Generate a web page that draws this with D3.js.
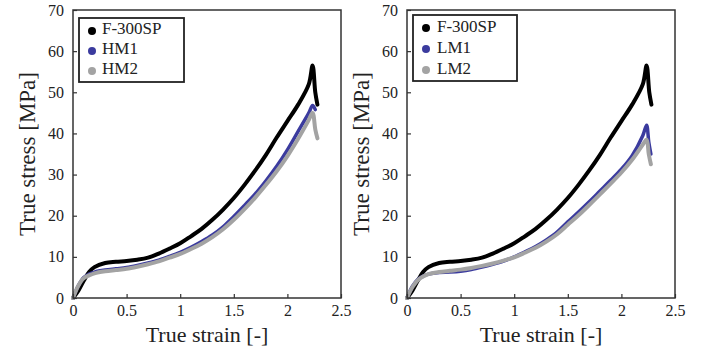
<!DOCTYPE html>
<html><head><meta charset="utf-8">
<script src="https://cdn.jsdelivr.net/npm/d3@7"></script>
<style>body{margin:0;background:#fff}svg{display:block}</style>
</head><body>
<svg id="c" width="702" height="353"></svg>
<script>
const xTicks = [0, 0.5, 1, 1.5, 2, 2.5];
const xTickLabels = ["0", "0.5", "1", "1.5", "2", "2.5"];
const yTicks = [0, 10, 20, 30, 40, 50, 60, 70];
const yTickLabels = ["0", "10", "20", "30", "40", "50", "60", "70"];

// F-300SP (same sample in both panels)
const strainF = [0, 0.05, 0.1, 0.15, 0.2, 0.3, 0.4, 0.5, 0.6, 0.7, 0.8, 0.9, 1.0, 1.1, 1.2, 1.3, 1.4, 1.5, 1.6, 1.7, 1.8, 1.9, 2.0, 2.1, 2.2, 2.235, 2.26, 2.28];
const stressF = [0, 1.8, 4.2, 6.3, 7.5, 8.5, 8.8, 9.0, 9.3, 9.8, 10.8, 12.0, 13.3, 15.0, 16.8, 19.0, 21.5, 24.3, 27.5, 31.0, 34.8, 39.0, 43.0, 47.0, 52.0, 56.5, 50.0, 47.0];

// Left panel: HM1, HM2
const strainHM1 = [0, 0.05, 0.1, 0.15, 0.2, 0.3, 0.4, 0.5, 0.6, 0.7, 0.8, 0.9, 1.0, 1.1, 1.2, 1.3, 1.4, 1.5, 1.6, 1.7, 1.8, 1.9, 2.0, 2.1, 2.2, 2.235, 2.26];
const stressHM1 = [0, 3.0, 5.0, 5.8, 6.3, 6.8, 7.1, 7.4, 7.9, 8.5, 9.2, 10.1, 11.1, 12.3, 13.7, 15.3, 17.3, 19.8, 22.5, 25.3, 28.5, 32.0, 36.0, 40.5, 45.0, 46.8, 45.8];
const strainHM2 = [0, 0.05, 0.1, 0.15, 0.2, 0.3, 0.4, 0.5, 0.6, 0.7, 0.8, 0.9, 1.0, 1.1, 1.2, 1.3, 1.4, 1.5, 1.6, 1.7, 1.8, 1.9, 2.0, 2.1, 2.2, 2.235, 2.26, 2.28];
const stressHM2 = [0, 3.0, 4.8, 5.5, 6.0, 6.5, 6.8, 7.1, 7.6, 8.2, 8.9, 9.8, 10.7, 11.9, 13.2, 14.8, 16.7, 19.0, 21.6, 24.4, 27.5, 30.8, 34.5, 38.7, 43.3, 45.0, 41.0, 38.8];

// Right panel: LM1, LM2
const strainLM1 = [0, 0.05, 0.1, 0.15, 0.2, 0.3, 0.4, 0.5, 0.6, 0.7, 0.8, 0.9, 1.0, 1.1, 1.2, 1.3, 1.4, 1.5, 1.6, 1.7, 1.8, 1.9, 2.0, 2.1, 2.2, 2.235, 2.255, 2.275];
const stressLM1 = [0, 2.8, 4.5, 5.3, 5.8, 6.2, 6.3, 6.5, 6.9, 7.5, 8.2, 9.0, 10.0, 11.2, 12.5, 14.1, 16.0, 18.5, 20.9, 23.4, 26.0, 28.6, 31.3, 34.6, 39.5, 42.0, 38.0, 35.0];
const strainLM2 = [0, 0.05, 0.1, 0.15, 0.2, 0.3, 0.4, 0.5, 0.6, 0.7, 0.8, 0.9, 1.0, 1.1, 1.2, 1.3, 1.4, 1.5, 1.6, 1.7, 1.8, 1.9, 2.0, 2.1, 2.2, 2.235, 2.255, 2.275];
const stressLM2 = [0, 2.6, 4.3, 5.2, 5.8, 6.3, 6.6, 6.9, 7.3, 7.8, 8.4, 9.1, 9.9, 11.0, 12.2, 13.7, 15.5, 17.8, 20.1, 22.6, 25.2, 27.8, 30.5, 33.6, 37.3, 38.5, 35.0, 32.5];

const colF = "#000000", col1 = "#3b3b9e", col2 = "#a3a3a3";
const serif = "'Liberation Serif','DejaVu Serif',serif";

const panels = [
  {x0: 73, x1: 341, ylab: 27, leg: {x: 79, y: 18, w: 105, h: 64, mx: 92, tx: 102, ty: [34, 54, 74], my: [31, 51, 71]},
   series: [["F-300SP", strainF, stressF, colF, 4], ["HM1", strainHM1, stressHM1, col1, 3.5], ["HM2", strainHM2, stressHM2, col2, 4]]},
  {x0: 407, x1: 675, ylab: 361, leg: {x: 413, y: 15, w: 104, h: 66, mx: 426, tx: 437, ty: [32, 53, 74], my: [28, 49, 70]},
   series: [["F-300SP", strainF, stressF, colF, 4], ["LM1", strainLM1, stressLM1, col1, 3.5], ["LM2", strainLM2, stressLM2, col2, 4]]}
];

const svg = d3.select("#c");
const yTop = 10, yBot = 298;

panels.forEach(p => {
  const x = d3.scaleLinear().domain([0, 2.5]).range([p.x0, p.x1]);
  const y = d3.scaleLinear().domain([0, 70]).range([yBot, yTop]);
  const g = svg.append("g");

  const line = d3.line().x(d => x(d[0])).y(d => y(d[1])).curve(d3.curveCatmullRom.alpha(0.5));
  p.series.forEach(s => {
    const pts = s[1].map((v, i) => [v, s[2][i]]);
    g.append("path").datum(pts).attr("d", line)
      .attr("fill", "none").attr("stroke", s[3]).attr("stroke-width", s[4])
      .attr("stroke-linejoin", "round").attr("stroke-linecap", "round");
  });

  // axes (ticks inward)
  const xa = d3.axisBottom(x).tickValues(xTicks).tickFormat((d, i) => xTickLabels[i]).tickSizeInner(-4).tickSizeOuter(0).tickPadding(7);
  const ya = d3.axisLeft(y).tickValues(yTicks).tickFormat((d, i) => yTickLabels[i]).tickSizeInner(-4).tickSizeOuter(0).tickPadding(9);
  const gx = g.append("g").attr("transform", `translate(0,${yBot})`).call(xa);
  const gy = g.append("g").attr("transform", `translate(${p.x0},0)`).call(ya);
  [gx, gy].forEach(a => {
    a.select(".domain").remove();
    a.selectAll("line").attr("stroke", "#333").attr("stroke-width", 1.2);
    a.selectAll("text").attr("font-family", serif).attr("font-size", 16).attr("fill", "#222");
  });

  // frame
  g.append("rect").attr("x", p.x0).attr("y", yTop).attr("width", p.x1 - p.x0).attr("height", yBot - yTop)
    .attr("fill", "none").attr("stroke", "#333").attr("stroke-width", 1.5);

  // axis titles
  g.append("text").attr("x", (p.x0 + p.x1) / 2).attr("y", 342).attr("text-anchor", "middle")
    .attr("font-family", serif).attr("font-size", 22).attr("fill", "#222").text("True strain [-]");
  g.append("text").attr("transform", `translate(${p.ylab + 8},${(yTop + yBot) / 2}) rotate(-90)`)
    .attr("text-anchor", "middle").attr("font-family", serif).attr("font-size", 23).attr("fill", "#222")
    .text("True stress [MPa]");

  // legend
  const L = p.leg;
  g.append("rect").attr("x", L.x).attr("y", L.y).attr("width", L.w).attr("height", L.h)
    .attr("fill", "#fff").attr("stroke", "#222").attr("stroke-width", 1.8);
  p.series.forEach((s, i) => {
    g.append("circle").attr("cx", L.mx).attr("cy", L.my[i]).attr("r", 4).attr("fill", s[3]);
    g.append("text").attr("x", L.tx).attr("y", L.ty[i]).attr("font-family", serif).attr("font-size", 17)
      .attr("fill", "#222").text(s[0]);
  });
});
</script>
</body></html>
